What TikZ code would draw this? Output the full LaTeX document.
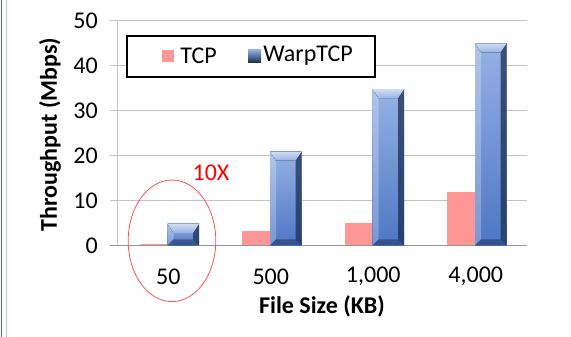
\documentclass[tikz,border=0pt]{standalone}
\usepackage{fontspec}
\setmainfont{Carlito}
\usetikzlibrary{positioning}
\definecolor{tcppink}{RGB}{255,150,150}
\definecolor{warptop}{RGB}{150,178,228}
\definecolor{warpbot}{RGB}{78,118,196}
\definecolor{warpdark}{RGB}{28,46,84}
\definecolor{gridgray}{RGB}{195,195,195}
\definecolor{axisgray}{RGB}{150,150,150}
\definecolor{frameblue}{RGB}{79,110,170}
\definecolor{ringred}{RGB}{255,80,80}
\tikzset{
  tcpbar/.style={fill=tcppink},
  gridline/.style={draw=gridgray, line width=1pt},
  ticklabel/.style={font=\fontsize{24}{28}\selectfont, inner sep=0pt},
  axistitle/.style={font=\fontsize{24}{28}\selectfont\bfseries, inner sep=0pt},
}
% one bevelled WarpTCP bar: left edge, value
\newcommand{\warpbar}[2]{%
  \pgfmathsetmacro{\barL}{#1}
  \pgfmathsetmacro{\barR}{#1+31.5}
  \pgfmathsetmacro{\barT}{91.5+4.49*#2}
  \fill[top color=warptop, bottom color=warpbot] (\barL,91.5) rectangle (\barR,\barT);
  \fill[white, opacity=.25] (\barL,91.5) -- (\barL,\barT) -- (\barL+6,\barT-9) -- (\barL+6,97.5) -- cycle;
  \fill[warpdark, opacity=.75] (\barR,91.5) -- (\barR,\barT) -- (\barR-6,\barT-9) -- (\barR-6,97.5) -- cycle;
  \fill[warpdark, opacity=.5] (\barL,91.5) -- (\barR,91.5) -- (\barR-6,97.5) -- (\barL+6,97.5) -- cycle;
  \fill[top color=white!55!warptop, bottom color=warptop] (\barL,\barT) -- (\barR,\barT) -- (\barR-6,\barT-9) -- (\barL+6,\barT-9) -- cycle;
}

\begin{document}
\begin{tikzpicture}[x=1pt, y=1pt]
	\tikzstyle{key}=[inner sep=0pt, minimum size=12pt]
	\useasboundingbox (0,0) rectangle (571,337);

	% frame on the left
	\draw[frameblue, line width=1.2pt] (1.5,0) -- (1.5,337);
	\draw[frameblue!40, line width=1.5pt] (6.5,0) -- (6.5,337);

	% grid and axes
	\draw[gridline] (110,136.4) -- (527,136.4);
	\draw[gridline] (110,181.3) -- (527,181.3);
	\draw[gridline] (110,226.2) -- (527,226.2);
	\draw[gridline] (110,271.1) -- (527,271.1);
	\draw[gridline] (110,316.0) -- (527,316.0);
	\draw[gridline] (117,91.5) -- (117,316.0);
	\draw[draw=axisgray, line width=1pt] (110,91.5) -- (527,91.5);

	\node[ticklabel, anchor=east] (y0) at (98,91.5) {0};
	\node[ticklabel, anchor=east] (y10) at (98,136.4) {10};
	\node[ticklabel, anchor=east] (y20) at (98,181.3) {20};
	\node[ticklabel, anchor=east] (y30) at (98,226.2) {30};
	\node[ticklabel, anchor=east] (y40) at (98,271.1) {40};
	\node[ticklabel, anchor=east] (y50) at (98,316.0) {50};

	% bars
	\fill[tcpbar] (139.5,91.5) rectangle (167.5,92.9);
	\fill[tcpbar] (242.0,91.5) rectangle (270.0,106.3);
	\fill[tcpbar] (344.5,91.5) rectangle (372.5,113.5);
	\fill[tcpbar] (447.0,91.5) rectangle (475.0,144.5);
	\warpbar{167.5}{4.8}
	\warpbar{270.0}{20.9}
	\warpbar{372.5}{34.8}
	\warpbar{475.0}{45.0}

	\node[ticklabel] (c50) at (168.25,60.3) {50};
	\node[ticklabel] (c500) at (270.75,60.3) {500};
	\node[ticklabel] (c1000) at (373.25,60.3) {1,000};
	\node[ticklabel] (c4000) at (475.75,60.3) {4,000};

	\node[axistitle] (xtitle) at (322,30.3) {File Size (KB)};
	\node[axistitle, rotate=90] (ytitle) at (50,202.5) {Throughput (Mbps)};

	% legend
	\node[draw, line width=1.6pt, fill=white, minimum width=248pt, minimum height=41pt] (legend) at (251,280.7) {};
	\node[key, fill=tcppink] (tcpkey) at (168,281) {};
	\node[ticklabel, right=6pt of tcpkey] (tcptext) {TCP};
	\node[key, minimum size=13pt, top color=warptop, bottom color=warpdark] (warpkey) at (254.5,281) {};
	\node[ticklabel, right=2pt of warpkey] (warptext) {WarpTCP};

	% highlight
	\node[ticklabel, text=red] (tenx) at (211,164) {10X};
	\draw[ringred, line width=0.8pt] (172,96.2) ellipse [x radius=43.8, y radius=60.8];
\end{tikzpicture}
\end{document}
